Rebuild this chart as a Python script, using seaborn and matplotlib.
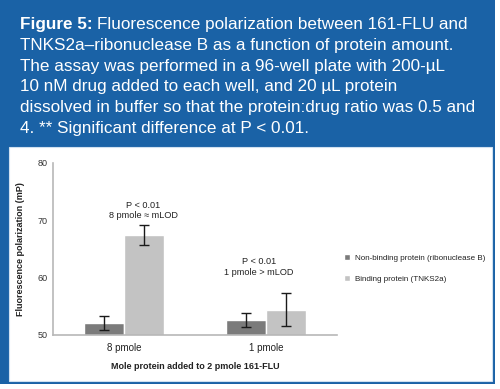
import matplotlib
matplotlib.use("Agg")
import matplotlib.pyplot as plt
from matplotlib.patches import Rectangle
import seaborn as sns
import pandas as pd
import numpy as np

categories = ["8 pmole", "1 pmole"]
series = ["Non-binding protein (ribonuclease B)", "Binding protein (TNKS2a)"]
nonbinding = [52.1, 52.6]
binding = [67.4, 54.4]
nonbinding_err = [1.3, 1.25]
binding_err = [1.7, 2.85]
yticks = [50, 60, 70, 80]
annotations = [("8 pmole", "P < 0.01\n8 pmole \u2248 mLOD", 70.0, 0.134),
               ("1 pmole", "P < 0.01\n1 pmole > mLOD", 60.2, -0.05)]
title_lines = [
    "Fluorescence polarization between 161-FLU and",
    "TNKS2a\u2013ribonuclease B as a function of protein amount.",
    "The assay was performed in a 96-well plate with 200-\u00b5L",
    "10 nM drug added to each well, and 20 \u00b5L protein",
    "dissolved in buffer so that the protein:drug ratio was 0.5 and",
    "4. ** Significant difference at P < 0.01.",
]

df = pd.DataFrame({
    "cat": categories * 2,
    "series": [series[0]] * 2 + [series[1]] * 2,
    "value": nonbinding + binding,
    "err": nonbinding_err + binding_err,
})

sns.set_style("white")
plt.rcParams['font.family'] = ['Liberation Sans', 'DejaVu Sans']

W, H = 500, 389
fig = plt.figure(figsize=(W / 100, H / 100), dpi=100)
fig.patch.set_facecolor("white")

blue = "#1a62a6"
# blue frame / header
fig.patches.append(Rectangle((0, 1 - 384 / H), 495 / W, 384 / H, transform=fig.transFigure,
                             facecolor=blue, edgecolor="none", zorder=-3))
fig.patches.append(Rectangle((9 / W, 1 - 381 / H), (492 - 9) / W, (381 - 147) / H,
                             transform=fig.transFigure, facecolor="white",
                             edgecolor="#cfe0f0", linewidth=0.8, zorder=-2))

ax = fig.add_axes([53 / W, 1 - 335 / H, (337 - 53) / W, (335 - 163) / H])
ax.set_facecolor("none")
ax.set_zorder(1)

pal = {series[0]: "#7b7b7b", series[1]: "#c3c3c3"}
sns.barplot(data=df, x="cat", y="value", hue="series", order=categories,
            hue_order=series, palette=pal, width=0.57, errorbar=None,
            saturation=1, ax=ax, legend=True)

# error bars at the bar centers
bars = [p for p in ax.patches if p.get_height() > 0]
for i, s in enumerate(series):
    sub = df[df.series == s].set_index("cat").loc[categories]
    bs = bars[i * len(categories):(i + 1) * len(categories)]
    xs = [b.get_x() + b.get_width() / 2 for b in bs]
    ax.errorbar(xs, sub["value"], yerr=sub["err"], fmt="none", ecolor="#1a1a1a",
                elinewidth=1.0, capsize=3.3, capthick=1.0, zorder=5)

ax.set_ylim(50, 80)
ax.set_xlim(-0.5, 1.5)
ax.set_yticks(yticks)
ax.set_yticklabels([str(t) for t in yticks], fontsize=6.5, color="#333333")
ax.set_xticks(range(len(categories)))
ax.set_xticklabels(categories, fontsize=7, color="#222222")
ax.tick_params(axis="x", length=0, pad=6)
ax.set_xticks([-0.5, 0.5, 1.5], minor=True)
ax.tick_params(axis="x", which="minor", length=3, color="#b5b5b5", width=1)
ax.tick_params(axis="y", length=3, color="#b5b5b5", width=1, pad=1)
for sp in ["top", "right"]:
    ax.spines[sp].set_visible(False)
for sp in ["left", "bottom"]:
    ax.spines[sp].set_color("#b8b8b8")
    ax.spines[sp].set_linewidth(1.2)

ax.set_xlabel("Mole protein added to 2 pmole 161-FLU", fontsize=6.5, fontweight="bold",
              color="#222222", labelpad=6)
ax.set_ylabel("Fluorescence polarization (mP)", fontsize=6.5, fontweight="bold",
              color="#222222", labelpad=9)

for cat, txt, yv, dx in annotations:
    xi = categories.index(cat)
    ax.text(xi + dx, yv, txt, ha="center", va="bottom", fontsize=6.6,
            color="#222222", linespacing=1.25)

leg = ax.get_legend()
handles = leg.legend_handles
leg.remove()
fig.legend(handles, series, loc="upper left", bbox_to_anchor=(341 / W, 1 - 251 / H),
           frameon=False, fontsize=5.8, handlelength=0.75, handleheight=0.75,
           handletextpad=0.6, labelspacing=1.65, borderaxespad=0, labelcolor="#222222")

# title block
fs = 12.3
x0 = 20 / W
baselines = [29, 50, 70.7, 91.3, 112, 132.7]
t = fig.text(x0, 1 - baselines[0] / H, "Figure 5: ", fontsize=fs, fontweight="bold",
             color="white", va="baseline", ha="left")
fig.canvas.draw()
bb = t.get_window_extent(renderer=fig.canvas.get_renderer())
fig.text(bb.x1 / W, 1 - baselines[0] / H, title_lines[0], fontsize=fs, color="white",
         va="baseline", ha="left")
for line, b in zip(title_lines[1:], baselines[1:]):
    fig.text(x0, 1 - b / H, line, fontsize=fs, color="white", va="baseline", ha="left")

fig.savefig("out.png", dpi=100)
